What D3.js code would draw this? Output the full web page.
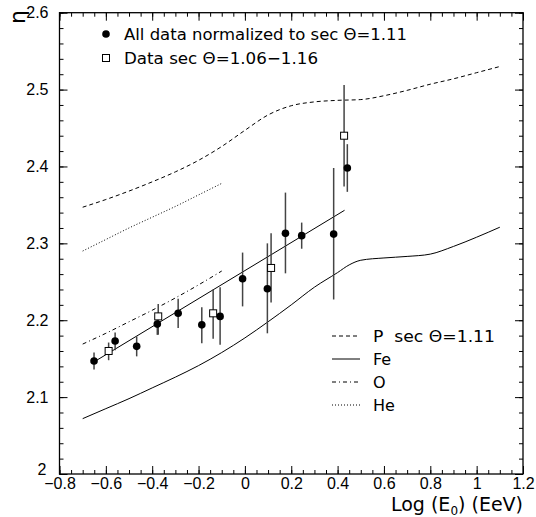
<!DOCTYPE html>
<html>
<head>
<meta charset="utf-8">
<script src="https://cdn.jsdelivr.net/npm/d3@7"></script>
<style>
  body { margin: 0; background: #fff; }
  text { font-family: "DejaVu Sans", "Liberation Sans", Arial, sans-serif; fill: #000; }
</style>
</head>
<body>
<div id="chart"></div>
<script>
// tick labels
var xTicks = [-0.8, -0.6, -0.4, -0.2, 0, 0.2, 0.4, 0.6, 0.8, 1, 1.2];
var yTicks = [2, 2.1, 2.2, 2.3, 2.4, 2.5, 2.6];

// model curves, log(E0) vs eta
var pX = [-0.7, -0.6, -0.5, -0.4, -0.3, -0.2, -0.1, 0, 0.1, 0.2, 0.3, 0.4, 0.5, 0.6, 0.7, 0.8, 0.9, 1.0, 1.1];
var pEta = [2.347, 2.357, 2.368, 2.380, 2.393, 2.408, 2.426, 2.447, 2.467, 2.479, 2.484, 2.486, 2.487, 2.492, 2.499, 2.507, 2.514, 2.522, 2.530];
var feX = [-0.7, -0.6, -0.5, -0.4, -0.3, -0.2, -0.1, 0, 0.1, 0.2, 0.3, 0.4, 0.45, 0.5, 0.6, 0.7, 0.8, 0.9, 1.0, 1.1];
var feEta = [2.072, 2.085, 2.098, 2.112, 2.126, 2.141, 2.158, 2.177, 2.198, 2.220, 2.243, 2.262, 2.272, 2.278, 2.281, 2.283, 2.286, 2.296, 2.308, 2.321];
var oX = [-0.7, -0.6, -0.5, -0.4, -0.3, -0.2, -0.1];
var oEta = [2.169, 2.183, 2.198, 2.213, 2.229, 2.246, 2.264];
var heX = [-0.7, -0.6, -0.5, -0.4, -0.3, -0.2, -0.1];
var heEta = [2.290, 2.305, 2.320, 2.334, 2.348, 2.363, 2.378];

// straight fit through the data
var fitX = [-0.65, 0.43];
var fitEta = [2.146, 2.343];

// all data normalized to sec theta = 1.11 (filled circles)
var allX = [-0.651, -0.56, -0.467, -0.378, -0.288, -0.186, -0.107, -0.010, 0.097, 0.175, 0.245, 0.383, 0.442];
var allEta = [2.147, 2.173, 2.166, 2.195, 2.209, 2.194, 2.205, 2.254, 2.241, 2.313, 2.310, 2.312, 2.398];
var allLo = [2.136, 2.161, 2.153, 2.181, 2.190, 2.170, 2.168, 2.218, 2.183, 2.261, 2.293, 2.227, 2.367];
var allHi = [2.158, 2.184, 2.179, 2.207, 2.228, 2.217, 2.243, 2.288, 2.300, 2.366, 2.327, 2.398, 2.429];

// data sec theta = 1.06-1.16 (open squares)
var secX = [-0.588, -0.374, -0.137, 0.113, 0.428];
var secEta = [2.160, 2.205, 2.209, 2.268, 2.440];
var secLo = [2.148, 2.181, 2.176, 2.223, 2.374];
var secHi = [2.171, 2.221, 2.240, 2.313, 2.506];

var svgWidth = 536;
var svgHeight = 517;
var margin = { top: 12.7, right: 13, bottom: 43, left: 59.5 };
var width = svgWidth - margin.left - margin.right;
var height = svgHeight - margin.top - margin.bottom;

var svg = d3.select("#chart")
    .append("svg")
    .attr("width", svgWidth)
    .attr("height", svgHeight);

var chartGroup = svg.append("g")
    .attr("transform", `translate(${margin.left}, ${margin.top})`);

var xScale = d3.scaleLinear().domain([-0.8, 1.2]).range([0, width]);
var yScale = d3.scaleLinear().domain([2, 2.6]).range([height, 0]);

var xMinor = d3.range(-16, 25).map(i => i * 0.05);
var yMinor = d3.range(100, 131).map(i => i * 0.02);

// frame
chartGroup.append("rect")
    .attr("width", width)
    .attr("height", height)
    .attr("fill", "none")
    .attr("stroke", "#000")
    .attr("stroke-width", 1.3);

function tickStyle(g) {
    g.select(".domain").remove();
    g.selectAll("line").attr("stroke", "#000").attr("stroke-width", 1);
}

// minor ticks, all four sides
chartGroup.append("g").attr("transform", `translate(0, ${height})`)
    .call(d3.axisBottom(xScale).tickValues(xMinor).tickSize(-4).tickFormat(""))
    .call(tickStyle);
chartGroup.append("g")
    .call(d3.axisTop(xScale).tickValues(xMinor).tickSize(-4).tickFormat(""))
    .call(tickStyle);
chartGroup.append("g")
    .call(d3.axisLeft(yScale).tickValues(yMinor).tickSize(-4).tickFormat(""))
    .call(tickStyle);
chartGroup.append("g").attr("transform", `translate(${width}, 0)`)
    .call(d3.axisRight(yScale).tickValues(yMinor).tickSize(-4).tickFormat(""))
    .call(tickStyle);

// major ticks with labels
var fmt = d3.format("");
var bottomAxis = chartGroup.append("g").attr("transform", `translate(0, ${height})`)
    .call(d3.axisBottom(xScale).tickValues(xTicks).tickSize(-8).tickPadding(4).tickFormat(fmt))
    .call(tickStyle);
bottomAxis.selectAll("text").style("font-size", "16px").style("font-family", "Liberation Sans, Arial, sans-serif");
chartGroup.append("g")
    .call(d3.axisTop(xScale).tickValues(xTicks).tickSize(-8).tickFormat(""))
    .call(tickStyle);
var leftAxis = chartGroup.append("g")
    .call(d3.axisLeft(yScale).tickValues(yTicks).tickSize(-8).tickPadding(11).tickFormat(fmt))
    .call(tickStyle);
leftAxis.selectAll("text").style("font-size", "16px").style("font-family", "Liberation Sans, Arial, sans-serif");
// the "2" sits a little higher and left so it clears the -0.8 label
leftAxis.selectAll(".tick").filter(d => d === 2).select("text").attr("dy", "0em").attr("x", -13);
chartGroup.append("g").attr("transform", `translate(${width}, 0)`)
    .call(d3.axisRight(yScale).tickValues(yTicks).tickSize(-8).tickFormat(""))
    .call(tickStyle);

// curves
var line = d3.line()
    .x(d => xScale(d[0]))
    .y(d => yScale(d[1]))
    .curve(d3.curveMonotoneX);

var curves = [
    { x: pX, y: pEta, dash: "4,3" },
    { x: feX, y: feEta, dash: null },
    { x: oX, y: oEta, dash: "4,3,1,3" },
    { x: heX, y: heEta, dash: "1,2" },
    { x: fitX, y: fitEta, dash: null }
];
curves.forEach(function(c) {
    chartGroup.append("path")
        .datum(d3.zip(c.x, c.y))
        .attr("d", line)
        .attr("fill", "none")
        .attr("stroke", "#000")
        .attr("stroke-width", 1)
        .attr("stroke-dasharray", c.dash);
});

// error bars
function errorBars(xs, lo, hi) {
    chartGroup.append("g").selectAll("line")
        .data(xs.map((x, i) => [x, lo[i], hi[i]]))
        .enter()
        .append("line")
        .attr("x1", d => xScale(d[0]))
        .attr("x2", d => xScale(d[0]))
        .attr("y1", d => yScale(d[1]))
        .attr("y2", d => yScale(d[2]))
        .attr("stroke", "#444")
        .attr("stroke-width", 1.5);
}
errorBars(allX, allLo, allHi);
errorBars(secX, secLo, secHi);

chartGroup.append("g").selectAll("circle")
    .data(d3.zip(allX, allEta))
    .enter()
    .append("circle")
    .attr("cx", d => xScale(d[0]))
    .attr("cy", d => yScale(d[1]))
    .attr("r", 3.8)
    .attr("fill", "#000");

chartGroup.append("g").selectAll("rect")
    .data(d3.zip(secX, secEta))
    .enter()
    .append("rect")
    .attr("x", d => xScale(d[0]) - 3.5)
    .attr("y", d => yScale(d[1]) - 3.5)
    .attr("width", 7)
    .attr("height", 7)
    .attr("fill", "#fff")
    .attr("stroke", "#000")
    .attr("stroke-width", 1);

// top-left legend
svg.append("circle").attr("cx", 106).attr("cy", 34).attr("r", 3.8).attr("fill", "#000");
svg.append("text").attr("x", 124).attr("y", 40).style("font-size", "16px")
    .attr("textLength", 283).attr("lengthAdjust", "spacingAndGlyphs")
    .text("All data normalized to sec \u0398=1.11");
svg.append("rect").attr("x", 102.5).attr("y", 54.5).attr("width", 7).attr("height", 7)
    .attr("fill", "#fff").attr("stroke", "#000");
svg.append("text").attr("x", 124).attr("y", 64).style("font-size", "16px")
    .attr("textLength", 194).attr("lengthAdjust", "spacingAndGlyphs")
    .text("Data sec \u0398=1.06\u22121.16");

// bottom-right legend
var legendRows = [
    { label: "P  sec \u0398=1.11", dash: "4,3", y: 336, len: 122 },
    { label: "Fe", dash: null, y: 359, len: null },
    { label: "O", dash: "4,3,1,3", y: 382, len: null },
    { label: "He", dash: "1,2", y: 405, len: null }
];
legendRows.forEach(function(r) {
    svg.append("line")
        .attr("x1", 332).attr("x2", 360)
        .attr("y1", r.y).attr("y2", r.y)
        .attr("stroke", "#000")
        .attr("stroke-width", 1)
        .attr("stroke-dasharray", r.dash);
    svg.append("text").attr("x", 373).attr("y", r.y + 5.5)
        .style("font-size", "16px")
        .attr("xml:space", "preserve")
        .attr("textLength", r.len)
        .attr("lengthAdjust", "spacingAndGlyphs")
        .text(r.label);
});

// axis titles
var xTitle = svg.append("text")
    .attr("x", margin.left + width)
    .attr("y", 511)
    .attr("text-anchor", "end")
    .style("font-size", "19px");
xTitle.append("tspan").text("Log (E");
xTitle.append("tspan").attr("dy", 4).style("font-size", "12px").text("0");
xTitle.append("tspan").attr("dy", -4).text(") (EeV)");

svg.append("text")
    .attr("transform", "translate(25, 17) rotate(-90)")
    .attr("text-anchor", "middle")
    .style("font-size", "22px")
    .text("\u03b7");
</script>
</body>
</html>
